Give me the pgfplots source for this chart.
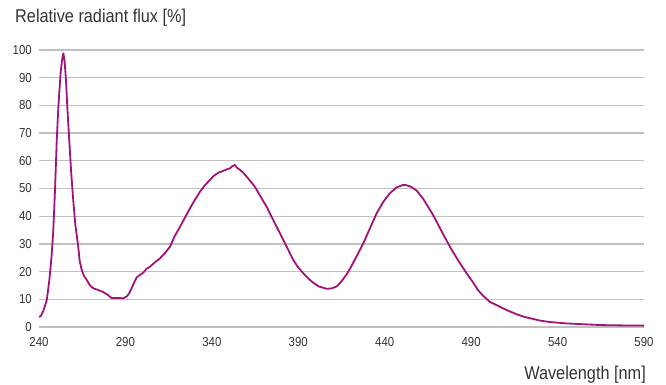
\documentclass[border=0pt]{standalone}
\usepackage{fontspec}
\setmainfont[FakeStretch=0.88]{Liberation Sans}
\usepackage{pgfplots}
\pgfplotsset{compat=1.18}
\definecolor{txt}{RGB}{51,51,51}
\definecolor{curve}{RGB}{163,18,124}
\definecolor{gridc}{RGB}{192,192,192}
\begin{document}
\begin{tikzpicture}[x=1bp,y=1bp]
\path[use as bounding box] (0,0) rectangle (666,384);
\begin{axis}[
  at={(39bp,57bp)}, anchor=south west,
  scale only axis, width=605bp, height=277bp,
  xmin=240, xmax=590, ymin=0, ymax=100,
  xtick={240,290,...,590}, ytick={0,10,...,100},
  axis line style={draw=none},
  major tick length=0pt,
  ymajorgrids=true, xmajorgrids=false,
  major grid style={draw=gridc, line width=1.3bp},
  clip=false,
  /pgf/number format/assume math mode=true,
  /pgf/number format/set thousands separator={},
  tick label style={font=\fontsize{13bp}{15bp}\selectfont, text=txt, inner sep=0pt},
  yticklabel style={anchor=east, xshift=-7bp},
  xticklabel style={anchor=north, yshift=-10bp},
]
\addplot[curve, line width=1.8bp, line join=round] coordinates {
(240,3.7)(241,3.9)(242.5,5.8)(244.5,9.7)(246,17)(247.2,25)(248.2,34)(249.3,50)(250.3,68)(251.2,79.5)(252.5,91.7)(253.5,97)(254.1,98.8)(254.8,96)(255.6,89.2)(256.5,78)(257.5,67.5)(258.6,56)(259.8,45.8)(261,37)(262.7,29)(263.5,24)(264.7,20.6)(266,18.5)(267.6,17)(269.5,15)(271.4,14)(274,13.4)(277.2,12.6)(280,11.5)(282,10.4)(284,10.5)(286.8,10.5)(288.5,10.3)(290.7,11)(292,12)(293.6,14)(295,16)(296.5,17.9)(298.4,18.8)(300.3,19.6)(302.2,21)(304.2,21.8)(307,23.3)(310,24.8)(313,26.8)(315.8,29)(318.5,32.8)(321.6,36.2)(324.5,39.6)(327.3,42.8)(330.2,45.9)(333.1,48.8)(336,51.2)(338.9,53.1)(341,54.5)(343.7,55.7)(346,56.2)(348.6,56.9)(350.5,57.3)(351.5,57.9)(353.4,58.5)(354.5,57.5)(356.3,56.7)(358,55.8)(360.1,54.3)(362.5,52.5)(364.9,50.6)(368,47.3)(371.7,43.4)(375.5,38.6)(379.4,33.8)(383.3,29)(387.1,24.2)(390,21.5)(392.9,19.4)(395.8,17.5)(398.6,16)(402,14.6)(406.4,13.8)(409,13.9)(412.2,14.6)(415,16.5)(417.5,18.6)(419.9,21)(423.7,25.5)(427.6,30.2)(431.5,35.7)(435.3,41)(439.2,45.2)(443,48.3)(446.9,50.4)(450.7,51.3)(452.5,51.2)(455,50.7)(458.4,49.3)(462,46.5)(465,43.5)(468,40.4)(472.8,34.7)(477.7,29)(482.5,24)(487.4,19.4)(491.2,16)(494,13.3)(497,11.2)(500.8,9.1)(506.6,7.3)(511,6)(516.3,4.6)(521,3.6)(525.9,2.9)(530,2.3)(535.5,1.8)(545,1.3)(554.8,1.0)(565,0.7)(574.1,0.6)(590,0.5)
};
\end{axis}
\node[anchor=base west, inner sep=0pt, text=txt, font=\fontsize{18.5bp}{21bp}\selectfont] at (15,362) {Relative radiant flux [\%]};
\node[anchor=base east, inner sep=0pt, text=txt, font=\fontsize{18.5bp}{21bp}\selectfont] at (646,5) {Wavelength [nm]};
\end{tikzpicture}
\end{document}
